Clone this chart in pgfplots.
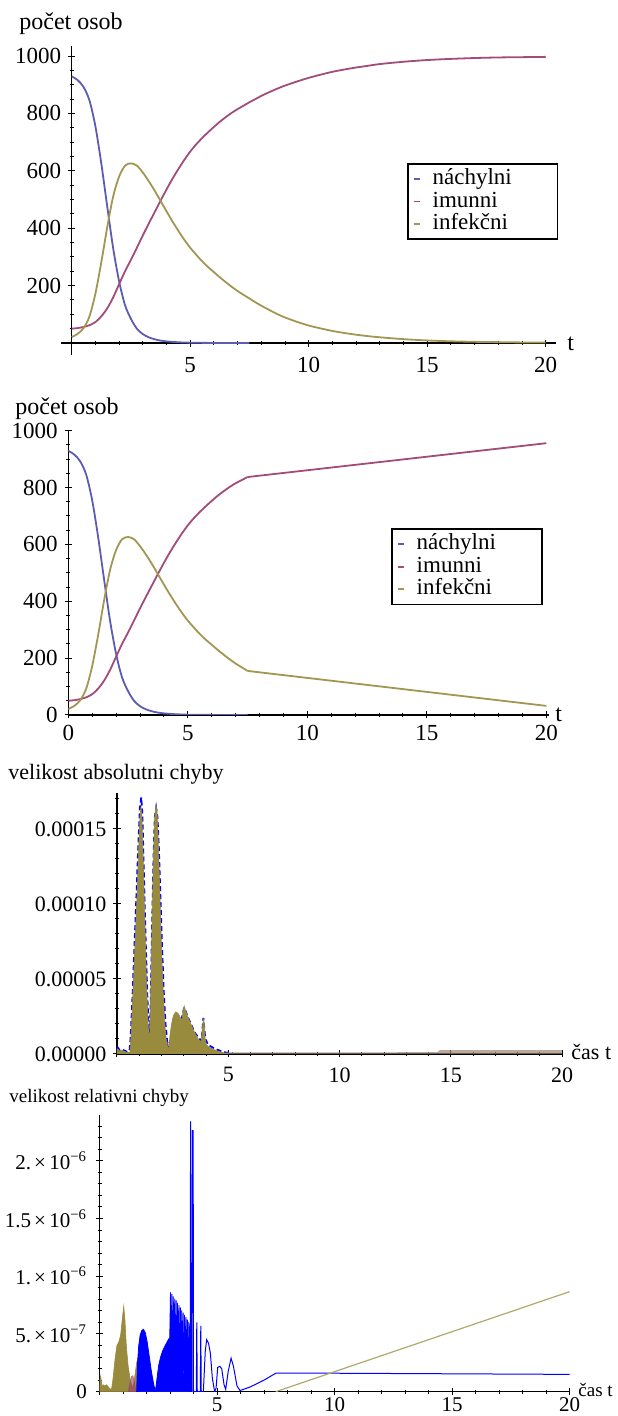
\documentclass[border=0pt]{standalone}
\usepackage{fontspec}
\setmainfont{Liberation Serif}
\usepackage{pgfplots}
\usepackage{pgfplotstable}
\pgfplotsset{compat=1.18}
\definecolor{mblue}{rgb}{0.36,0.36,0.70}
\definecolor{mpurple}{rgb}{0.63,0.30,0.48}
\definecolor{molive}{rgb}{0.64,0.59,0.32}
\definecolor{fblue}{rgb}{0,0,1}
\definecolor{fpurple}{rgb}{0.6,0.24,0.44}
\definecolor{folive}{rgb}{0.6,0.547,0.24}
\definecolor{lolive}{rgb}{0.70,0.66,0.42}
\definecolor{fstrip}{rgb}{0.62,0.52,0.45}
\newcommand\fa{\fontsize{11.5}{13}\selectfont}
\newcommand\ft{\fontsize{12}{14}\selectfont}
\newcommand\fc{\fontsize{11}{13}\selectfont}
\newcommand\fd{\fontsize{10.5}{12}\selectfont}
\newcommand\fe{\fontsize{9.5}{11}\selectfont}
\newcommand\xx{\kern1.6pt×\kern1.6pt}
\pgfplotsset{
  mstyle/.style={
    scale only axis,
    tick align=inside,
    major tick length=3.5pt,
    minor tick length=2pt,
    tick style={black, line width=0.5pt},
  },
  noarrows/.style={
    axis line style={-, line width=0.6pt, black},
    every inner x axis line/.append style={-},
    every inner y axis line/.append style={-},
    every outer x axis line/.append style={-},
    every outer y axis line/.append style={-},
  },
  mlegend/.style={
    legend style={at={(#1)}, anchor=north west, draw=black, line width=0.8pt, fill=white,
      inner xsep=2.5pt, inner ysep=2pt, font=\fa, row sep=0pt,
      nodes={inner sep=0pt, text height=8.5pt, text depth=2.75pt},
      cells={anchor=west},
      /tikz/every odd column/.append style={column sep=6pt}},
    legend image code/.code={\draw[##1, line width=0.9pt] (0pt,0pt) -- (3pt,0pt);},
  }
}
\pgfplotstableread{
t S
0 929
0.25 916
0.5 892
0.75 845
1 755
1.25 625
1.5 475
1.75 330
2 215
2.25 132
2.5 84
2.75 50
3 31
3.25 20
3.5 13
3.75 8.5
4 5.7
4.25 4
4.5 2.6
4.75 1.8
5 1.2
5.25 0.85
5.5 0.6
5.75 0.42
6 0.3
6.5 0.15
7 0.08
7.5 0.04
}\tabS
% panel 1: full smooth curves
\pgfplotstableread{
t R
0 50
0.25 52
0.5 56
0.75 62
1 73
1.25 93
1.5 121
1.75 159
2 205
2.25 250
2.5 290
2.75 332
3 375
3.25 416
3.5 456
3.75 496
4 535
4.25 572
4.5 606
4.75 638
5 667
5.25 692
5.5 714
5.75 734
6 753
6.25 771
6.5 787
6.75 802
7 815
7.25 827
7.5 839
7.75 850
8 861
8.25 871
8.5 880
8.75 889
9 897
9.5 911
10 924
10.5 935
11 945
11.5 953
12 960
12.5 966
13 972
14 980
15 986
16 990
17 993
18 995
19 996
20 997
}\tabR
\pgfplotstableread{
t I
0 21
0.25 32
0.5 52
0.75 93
1 172
1.25 282
1.5 404
1.75 511
2 580
2.25 618
2.5 626
2.75 618
3 594
3.25 564
3.5 531
3.75 495
4 459
4.25 424
4.5 391
4.75 360
5 332
5.25 308
5.5 285
5.75 265
6 247
6.25 229
6.5 212
6.75 196
7 181
7.25 168
7.5 155
7.75 142
8 130
8.25 119
8.5 108
8.75 98
9 89
9.5 74
10 61
10.5 51
11 42
11.5 35
12 29
12.5 24
13 20
14 13.5
15 9
16 6
17 4.2
18 3
19 2.1
20 1.5
}\tabI
% panel 2: smooth part up to t = 7.5
\pgfplotstableread{
t R
0 50
0.25 52
0.5 56
0.75 62
1 73
1.25 93
1.5 121
1.75 159
2 205
2.25 250
2.5 290
2.75 332
3 375
3.25 416
3.5 456
3.75 496
4 535
4.25 572
4.5 606
4.75 638
5 667
5.25 692
5.5 714
5.75 734
6 753
6.25 771
6.5 787
6.75 802
7 815
7.25 826
7.5 837
}\tabRa
\pgfplotstableread{
t I
0 21
0.25 32
0.5 52
0.75 93
1 172
1.25 282
1.5 404
1.75 511
2 580
2.25 618
2.5 626
2.75 618
3 594
3.25 564
3.5 531
3.75 495
4 459
4.25 424
4.5 391
4.75 360
5 332
5.25 308
5.5 285
5.75 265
6 247
6.25 229
6.5 212
6.75 196
7 181
7.25 168
7.5 155
}\tabIa
\begin{document}
\begin{tikzpicture}
\path[use as bounding box] (0,0) rectangle (308.5pt,708pt);

% ---------------- Panel 1 ----------------
\begin{axis}[mstyle, at={(30.4pt,530.45pt)}, anchor=south west,
  width=247.8pt, height=154.55pt, axis lines=middle, noarrows,
  xmin=-0.46, xmax=20.45, ymin=-42, ymax=1035,
  xtick={0,5,10,15,20}, xticklabels={,5,10,15,20},
  ytick={0,200,400,600,800,1000}, yticklabels={,200,400,600,800,1000},
  minor x tick num=4, minor y tick num=3,
  tick label style={font=\fa}, xticklabel style={yshift=-2pt},
  mlegend={0.6986,0.6215}]
\addplot[mblue, line width=0.9pt, smooth] table[x=t,y=S] {\tabS};
\addlegendentry{\makebox[60pt][l]{náchylni}}
\addplot[mpurple, line width=0.9pt, smooth] table[x=t,y=R] {\tabR};
\addlegendentry{imunni}
\addplot[molive, line width=0.9pt, smooth] table[x=t,y=I] {\tabI};
\addlegendentry{infekčni}
\end{axis}
\node[anchor=base west, font=\ft, inner sep=0pt] at (9.5pt,693pt) {počet osob};
\node[anchor=base west, font=\ft, inner sep=0pt] at (283.5pt,532.5pt) {t};

% ---------------- Panel 2 ----------------
\begin{axis}[mstyle, at={(34.15pt,350.5pt)}, anchor=south west,
  width=240.2pt, height=142.15pt, axis lines=left, noarrows,
  xmin=0, xmax=20.1, ymin=0, ymax=1000,
  xtick={0,5,10,15,20}, xticklabels={0,5,10,15,20},
  ytick={0,200,400,600,800,1000}, yticklabels={0,200,400,600,800,1000},
  minor x tick num=4, minor y tick num=3,
  tick label style={font=\fa},
  mlegend={0.672,0.657}]
\addplot[mblue, line width=0.9pt, smooth] table[x=t,y=S] {\tabS};
\addlegendentry{\makebox[60pt][l]{náchylni}}
\addplot[mpurple, line width=0.9pt, smooth] table[x=t,y=R] {\tabRa};
\addlegendentry{imunni}
\addplot[molive, line width=0.9pt, smooth] table[x=t,y=I] {\tabIa};
\addlegendentry{infekčni}
\addplot[mpurple, line width=0.9pt, forget plot] coordinates {(7.5,837)(20,956)};
\addplot[molive, line width=0.9pt, forget plot] coordinates {(7.5,155)(20,32)};
\end{axis}
\node[anchor=base west, font=\ft, inner sep=0pt] at (7.5pt,500.5pt) {počet osob};
\node[anchor=base west, font=\ft, inner sep=0pt] at (277.5pt,347pt) {t};

% ---------------- Panel 3 ----------------
\begin{axis}[mstyle, at={(58.5pt,181pt)}, anchor=south west,
  width=222.5pt, height=130.5pt, axis lines=left, noarrows,
  xmin=0, xmax=20, ymin=0, ymax=17.4,
  xtick={0,5,10,15,20}, xticklabels={,5,10,15,20},
  ytick={0,5,10,15}, yticklabels={0.00000,0.00005,0.00010,0.00015},
  minor x tick num=4, minor ytick={1,2,3,4,6,7,8,9,11,12,13,14,16,17},
  tick label style={font=\fc}, xticklabel style={yshift=-1.5pt}]
\addplot[fblue, line width=0.9pt, dash pattern=on 2.5pt off 1.5pt] coordinates {(0,0.5)(0.05,0.4)(0.12,0.25)(0.2,0.3)(0.3,0.25)(0.45,0.15)(0.56,0.2)(0.6,0.8)(0.68,3.2)(0.78,7)(0.88,10.8)(0.96,14)(1.03,16.4)(1.09,17.1)(1.14,16)(1.2,12.5)(1.28,8)(1.36,4)(1.43,1.5)(1.47,0.6)(1.5,2.5)(1.57,8)(1.64,13)(1.7,15.8)(1.76,16.4)(1.82,15.8)(1.88,13.8)(1.95,10.5)(2.03,7)(2.1,4.2)(2.18,2)(2.26,0.8)(2.33,0.3)(2.4,1.0)(2.55,2.4)(2.65,2.7)(2.9,2.3)(3.02,3.1)(3.2,2.4)(3.5,1.4)(3.8,0.85)(3.88,2.4)(3.97,1.0)(4.1,0.6)(4.4,0.35)(4.8,0.12)(5.2,0.05)};
\addplot[fpurple, fill=fpurple, line width=0.3pt] coordinates {(0.95,0)(1.0,0.5)(1.05,0)(1.42,0)(1.46,0.7)(1.5,0)(2.22,0)(2.27,0.8)(2.32,0)(2.95,0)(3.0,0.6)(3.05,0)(3.85,0)(3.9,0.5)(3.95,0)} \closedcycle;
\addplot[folive, fill=folive, line width=0.3pt] coordinates {(0,0.35)(0.05,0.3)(0.12,0.2)(0.2,0.25)(0.3,0.2)(0.45,0.1)(0.58,0.1)(0.63,1.2)(0.7,3.5)(0.8,7)(0.9,10.5)(0.97,13.5)(1.03,15.8)(1.08,16.5)(1.12,15.8)(1.18,12.8)(1.25,9)(1.32,5)(1.4,2)(1.46,0.6)(1.5,3)(1.57,8.2)(1.64,13.2)(1.7,15.9)(1.75,16.6)(1.8,16.2)(1.86,14)(1.93,10.5)(2.0,7)(2.08,4)(2.16,1.8)(2.24,0.6)(2.32,0.3)(2.38,1.2)(2.45,2.0)(2.55,2.6)(2.65,2.8)(2.75,2.7)(2.85,2.4)(2.93,2.3)(2.97,2.9)(3.02,3.2)(3.08,2.9)(3.2,2.4)(3.35,1.9)(3.5,1.4)(3.65,1.0)(3.78,0.8)(3.83,1.6)(3.88,2.3)(3.92,2.1)(3.96,1.0)(4.02,0.6)(4.2,0.4)(4.5,0.2)(4.8,0.08)(5.0,0.02)} \closedcycle;
\addplot[fstrip, fill=fstrip, fill opacity=0.7, draw=none] coordinates {(4.9,0.1)(14.4,0.12)(14.5,0.25)(20,0.26)} \closedcycle;
\end{axis}
\node[anchor=base west, font=\fc, inner sep=0pt] at (4pt,318pt) {velikost absolutni chyby};
\node[anchor=base west, font=\fc, inner sep=0pt] at (285.5pt,178pt) {čas t};

% ---------------- Panel 4 ----------------
\begin{axis}[mstyle, at={(49.75pt,12.15pt)}, anchor=south west,
  width=235pt, height=138.35pt, axis lines=left, noarrows,
  xmin=0, xmax=20, ymin=0, ymax=23.96,
  xtick={0,5,10,15,20}, xticklabels={,5,10,15,20},
  ytick={0,5,10,15,20},
  yticklabels={0,{5.\xx10\textsuperscript{−7}},{1.\xx10\textsuperscript{−6}},{1.5\xx10\textsuperscript{−6}},{2.\xx10\textsuperscript{−6}}},
  minor x tick num=4, minor ytick={1,2,3,4,6,7,8,9,11,12,13,14,16,17,18,19,21,22,23},
  tick label style={font=\fd},
  yticklabel style={xshift=-1pt},
  xticklabel style={inner sep=1pt}]
\addplot[folive, fill=folive, line width=0.3pt] coordinates {(0,0.2)(0.03,1.4)(0.06,1.2)(0.1,0.5)(0.15,0.6)(0.22,0.5)(0.3,0.6)(0.38,0.4)(0.46,0.2)(0.52,0.3)(0.58,1.2)(0.66,2.8)(0.74,4.0)(0.82,4.3)(0.9,4.9)(0.97,6.3)(1.03,7.4)(1.08,6.3)(1.14,4.0)(1.22,2.2)(1.32,0.9)(1.42,0.3)(1.5,1.3)(1.58,2.5)(1.65,3.0)(1.71,3.1)(1.78,2.7)(1.88,1.9)(1.98,1.2)(2.08,0.6)(2.2,0.3)(2.4,0.35)(2.7,0.45)(3.0,0.5)(3.4,0.45)(3.8,0.4)(3.95,0.2)(4.0,0)} \closedcycle;
\addplot[fpurple, fill=fpurple, fill opacity=0.6, draw opacity=0.6, line width=0.3pt] coordinates {(1.22,0)(1.3,0.8)(1.36,1.3)(1.42,1.4)(1.48,0.9)(1.55,0)} \closedcycle;
\addplot[fblue, fill=fblue, line width=0.4pt] coordinates {(1.58,0)(1.62,2.5)(1.67,4.0)(1.73,4.9)(1.8,5.3)(1.87,5.4)(1.95,5.1)(2.03,4.3)(2.12,3.0)(2.22,1.6)(2.32,0.5)(2.38,0)} \closedcycle;
\addplot[fblue, fill=fblue, line width=0.4pt] coordinates {(2.38,0)(2.45,1.2)(2.52,2.3)(2.6,3.0)(2.7,3.6)(2.8,4.0)(2.9,4.4)(2.99,4.7)(3.02,8.6)(3.05,2.5)(3.08,8.45)(3.11,2.3)(3.14,8.25)(3.17,2.0)(3.2,8.05)(3.23,1.8)(3.26,7.9)(3.29,1.5)(3.32,7.7)(3.35,1.3)(3.38,7.5)(3.41,1.0)(3.44,7.3)(3.47,0.8)(3.5,7.05)(3.53,0.6)(3.56,6.85)(3.59,0.4)(3.62,6.65)(3.65,0.3)(3.68,6.45)(3.71,0.2)(3.74,6.25)(3.77,0.1)(3.8,6.05)(3.83,0)(3.85,5.9)(3.86,0)} \closedcycle;
\addplot[fblue, line width=0.5pt] coordinates {(3.86,0)(3.875,23.4)(3.89,0)(3.93,0)(3.95,22.6)(3.985,22.6)(4.0,0)(4.12,0)(4.14,6.0)(4.16,0)(4.29,0)(4.31,5.7)(4.33,0)(4.42,0)(4.5,3.5)(4.56,4.5)(4.64,4.2)(4.72,3.3)(4.8,1.2)(4.9,0)(4.96,0.3)(5.03,2.1)(5.12,2.2)(5.2,2.0)(5.3,0.6)(5.37,0.2)(5.48,1.8)(5.6,2.9)(5.7,2.2)(5.85,0.5)(5.98,0.1)(6.4,0.4)(7.0,1.0)(7.5,1.6)(10,1.6)(15,1.55)(20,1.5)};
\addplot[lolive, line width=0.6pt] coordinates {(7.5,0)(20,8.66)};
\end{axis}
\node[anchor=base west, font=\fe, inner sep=0pt] at (4.5pt,156.5pt) {velikost relativni chyby};
\node[anchor=base west, font=\fe, inner sep=0pt] at (289pt,9.5pt) {čas t};
\end{tikzpicture}
\end{document}
